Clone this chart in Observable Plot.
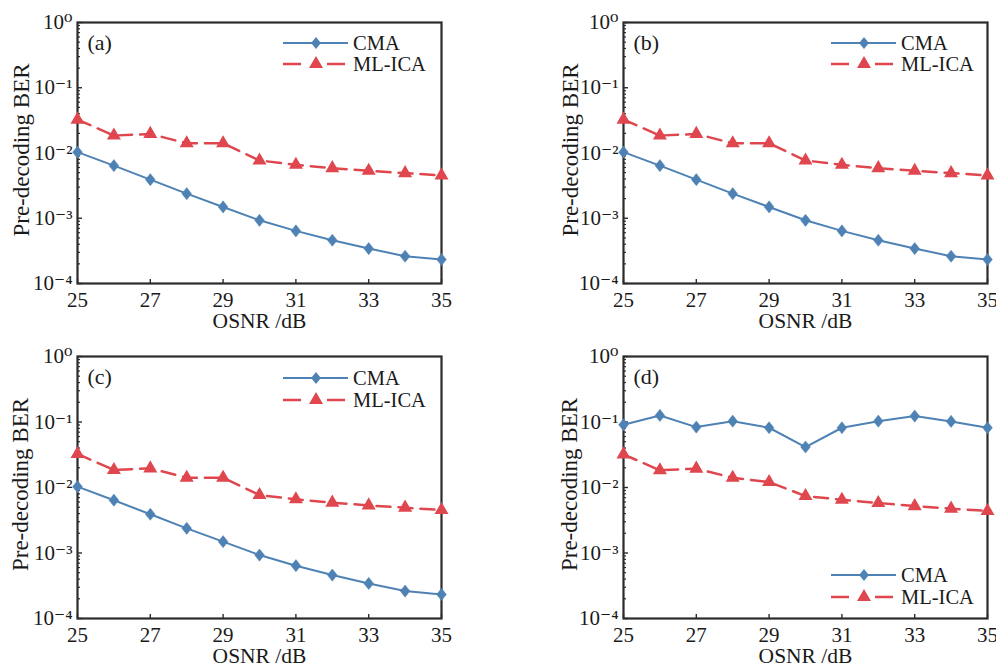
<!DOCTYPE html>
<html>
<head>
<meta charset="utf-8">
<script src="https://cdn.jsdelivr.net/npm/d3@7"></script>
<script src="https://cdn.jsdelivr.net/npm/@observablehq/plot@0.6"></script>
<style>
  html, body { margin: 0; padding: 0; background: #fff; }
  #root { position: relative; width: 996px; height: 665px; overflow: hidden; background: #fff; }
  .panel { position: absolute; }
  .legend { position: absolute; pointer-events: none; }
</style>
</head>
<body>
<div id="root"></div>
<script>
// ---------- data ----------
const osnr = [25, 26, 27, 28, 29, 30, 31, 32, 33, 34, 35];
// panels (a), (b), (c)
const cmaABC   = [0.0103, 0.0064, 0.0039, 0.00238, 0.00149, 0.00093, 0.00064, 0.00046, 0.000343, 0.000262, 0.000233];
const mlicaABC = [0.0325, 0.0185, 0.0196, 0.0141, 0.0141, 0.00768, 0.0066, 0.00586, 0.00533, 0.00492, 0.00453];
// panel (d)
const cmaD   = [0.0908, 0.126, 0.0836, 0.103, 0.0817, 0.0415, 0.0817, 0.103, 0.123, 0.102, 0.0817];
const mlicaD = [0.032, 0.0183, 0.0194, 0.0141, 0.0121, 0.0074, 0.0065, 0.0058, 0.0052, 0.00475, 0.00438];

const xTickValues = [25, 27, 29, 31, 33, 35];
const yMajor = [1e-4, 1e-3, 1e-2, 1e-1, 1];
const yTickLabels = ["10\u207B\u2074", "10\u207B\u00B3", "10\u207B\u00B2", "10\u207B\u00B9", "10\u2070"];
const yMinor = [];
for (const e of [-4, -3, -2, -1]) for (let m = 2; m <= 9; m++) yMinor.push(m * Math.pow(10, e));

const seriesNames = ["CMA", "ML-ICA"];
const panelLabels = ["(a)", "(b)", "(c)", "(d)"];
const xLabel = "OSNR /dB";
const yLabel = "Pre-decoding BER";

// ---------- style ----------
const BLUE = "#4f82b4";
const RED = "#e0464e";
const AXIS = "#2b2b2b";
const FONT = "'Liberation Serif', 'DejaVu Serif', serif";

const diamondSymbol = {
  draw(ctx, size) {
    const r = Math.sqrt(size / Math.PI);
    const b = r * 1.35, a = b * 0.8;
    ctx.moveTo(0, -b); ctx.lineTo(a, 0); ctx.lineTo(0, b); ctx.lineTo(-a, 0); ctx.closePath();
  }
};

const W = 498, H = 332;

function panel(opts) {
  const { cma, ml, label, left, top, mL, mR, mT, mB, yLabDx, legend } = opts;
  const fw = W - mL - mR, fh = H - mT - mB;
  const dC = osnr.map((x, i) => ({ x, y: cma[i] }));
  const dM = osnr.map((x, i) => ({ x, y: ml[i] }));
  const plot = Plot.plot({
    width: W, height: H,
    marginLeft: mL, marginRight: mR, marginTop: mT, marginBottom: mB,
    style: { fontFamily: FONT, fontSize: "21px", color: "#1a1a1a", background: "transparent", overflow: "visible" },
    x: { domain: [25, 35] },
    y: { type: "log", domain: [1e-4, 1] },
    marks: [
      Plot.frame({ stroke: AXIS, strokeWidth: 2.2 }),
      Plot.ruleY(yMinor, { y: d => d, stroke: AXIS, strokeWidth: 1.2, insetRight: fw - 3 }),
      Plot.ruleY(yMajor, { y: d => d, stroke: AXIS, strokeWidth: 1.4, insetRight: fw - 5 }),
      Plot.ruleX(xTickValues, { x: d => d, stroke: AXIS, strokeWidth: 1.4, insetTop: fh - 4 }),
      Plot.axisX({ ticks: xTickValues, tickSize: 0, tickPadding: 9, label: null, tickFormat: d => String(d), fontSize: 21 }),
      Plot.axisY({ ticks: yMajor, tickSize: 0, tickPadding: 5, label: null,
        tickFormat: d => yTickLabels[yMajor.findIndex(v => Math.abs(Math.log10(v) - Math.log10(d)) < 1e-6)], fontSize: 21 }),
      Plot.line(dC, { x: "x", y: "y", stroke: BLUE, strokeWidth: 2 }),
      Plot.dot(dC, { x: "x", y: "y", symbol: diamondSymbol, r: 4.5, fill: BLUE, stroke: BLUE, strokeWidth: 0.5 }),
      Plot.line(dM, { x: "x", y: "y", stroke: RED, strokeWidth: 2.5, strokeDasharray: "14,8" }),
      Plot.dot(dM, { x: "x", y: "y", symbol: "triangle", r: 5.2, fill: RED }),
      Plot.text([label], { text: d => d, frameAnchor: "top-left", dx: 10, dy: 20, textAnchor: "start", lineAnchor: "middle", fontSize: 22, fill: "#1a1a1a" }),
      Plot.text([yLabel], { text: d => d, frameAnchor: "left", dx: yLabDx, dy: -3, rotate: -90, textAnchor: "middle", lineAnchor: "bottom", fontSize: 23, fill: "#1a1a1a" }),
      Plot.text([xLabel], { text: d => d, frameAnchor: "bottom", dy: 38, textAnchor: "middle", lineAnchor: "middle", fontSize: 21.5, fill: "#1a1a1a" })
    ]
  });
  plot.classList.add("panel");
  plot.style.left = left + "px";
  plot.style.top = top + "px";
  document.getElementById("root").appendChild(plot);

  // legend (added above the SVG, drawn as its own small SVG)
  const lg = d3.select("#root").append("svg")
    .attr("class", "legend")
    .attr("width", 160).attr("height", 50)
    .style("left", legend.x + "px").style("top", (legend.y - 12) + "px")
    .style("font-family", FONT).style("font-size", "20.5px");
  const rows = [
    { name: seriesNames[0], color: BLUE, dash: null, sym: diamondSymbol, r: 4.5, sw: 2 },
    { name: seriesNames[1], color: RED, dash: "18,26", sym: d3.symbolTriangle, r: 5.2, sw: 2.5 }
  ];
  rows.forEach((row, i) => {
    const y = 12 + i * legend.dy;
    lg.append("line").attr("x1", 0).attr("x2", 65).attr("y1", y).attr("y2", y)
      .attr("stroke", row.color).attr("stroke-width", row.sw)
      .attr("stroke-dasharray", row.dash);
    lg.append("path").attr("transform", `translate(33,${y})`)
      .attr("d", d3.symbol(row.sym, Math.PI * row.r * row.r)())
      .attr("fill", row.color);
    lg.append("text").attr("x", 70).attr("y", y).attr("dy", "0.35em")
      .attr("fill", "#1a1a1a").text(row.name);
  });
}

panel({ cma: cmaABC, ml: mlicaABC, label: panelLabels[0], left: 0, top: 0, mL: 77, mR: 57, mT: 22, mB: 49, yLabDx: -49, legend: { x: 283, y: 43, dy: 21 } });
panel({ cma: cmaABC, ml: mlicaABC, label: panelLabels[1], left: 498, top: 0, mL: 125, mR: 9, mT: 22, mB: 49, yLabDx: -46, legend: { x: 831, y: 43, dy: 21 } });
panel({ cma: cmaABC, ml: mlicaABC, label: panelLabels[2], left: 0, top: 333, mL: 77, mR: 57, mT: 23, mB: 47, yLabDx: -50, legend: { x: 283, y: 378, dy: 22 } });
panel({ cma: cmaD, ml: mlicaD, label: panelLabels[3], left: 498, top: 333, mL: 125, mR: 9, mT: 23, mB: 47, yLabDx: -47, legend: { x: 831, y: 575, dy: 22 } });
</script>
</body>
</html>
